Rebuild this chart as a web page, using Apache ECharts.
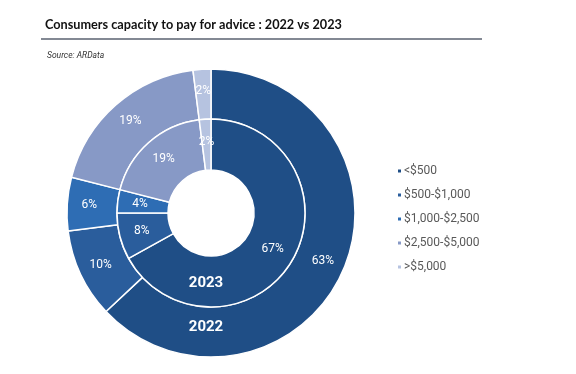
<!DOCTYPE html>
<html><head><meta charset="utf-8">
<script src="https://cdn.jsdelivr.net/npm/echarts@6/dist/echarts.min.js"></script>
<style>html,body{margin:0;padding:0;background:#fff}#c{width:576px;height:374px}</style>
</head><body><div id="c"></div>
<script>
const categories = ['<$500', '$500-$1,000', '$1,000-$2,500', '$2,500-$5,000', '>$5,000'];
const values2022 = [63, 10, 6, 19, 2];
const values2023 = [67, 8, 4, 19, 2];
const colors = ['#1F4E86', '#2A5D9C', '#2E6DB4', '#8799C6', '#B6C3E0'];

const chart = echarts.init(document.getElementById('c'));
function mk(vals) { return vals.map((v, i) => ({ name: categories[i], value: v })); }
const lbl = { show: true, position: 'inside', formatter: '{c}%', color: '#fff', fontSize: 12, fontFamily: 'Roboto' };
chart.setOption({
  animation: false,
  color: colors,
  title: [
    { text: 'Consumers capacity to pay for advice : 2022 vs 2023', left: 40, top: 13,
      textStyle: { fontFamily: 'Lato', fontWeight: 'bold', fontSize: 12.7, color: '#111' } },
    { text: 'Source: ARData', left: 42, top: 46,
      textStyle: { fontFamily: 'Roboto', fontStyle: 'italic', fontWeight: 'normal', fontSize: 8.5, color: '#333' } }
  ],
  graphic: [
    { type: 'line', z: 100, shape: { x1: 41, y1: 39, x2: 482, y2: 39 }, style: { stroke: '#5a6270', lineWidth: 1.5 } },
    { type: 'text', z: 100, x: 206, y: 283, style: { text: '2023', fill: '#fff', font: 'bold 15px Roboto', textAlign: 'center', textVerticalAlign: 'middle' } },
    { type: 'text', z: 100, x: 206, y: 327, style: { text: '2022', fill: '#fff', font: 'bold 15px Roboto', textAlign: 'center', textVerticalAlign: 'middle' } }
  ],
  legend: {
    orient: 'vertical', left: 391, top: 160, itemWidth: 5, itemHeight: 5, itemGap: 12,
    icon: 'rect', data: categories,
    textStyle: { fontFamily: 'Roboto', fontSize: 12, color: '#595959', padding: [0, 0, 0, -3] }
  },
  series: [
    { name: '2022', type: 'pie', center: [211, 213], radius: [94, 144], startAngle: 90, clockwise: true,
      data: mk(values2022), label: lbl, labelLine: { show: false },
      itemStyle: { borderColor: '#fff', borderWidth: 1.5 }, emphasis: { disabled: true } },
    { name: '2023', type: 'pie', center: [211, 213], radius: [43, 94], startAngle: 90, clockwise: true,
      data: mk(values2023), label: lbl, labelLine: { show: false },
      itemStyle: { borderColor: '#fff', borderWidth: 1.5 }, emphasis: { disabled: true } }
  ]
});
</script></body></html>
